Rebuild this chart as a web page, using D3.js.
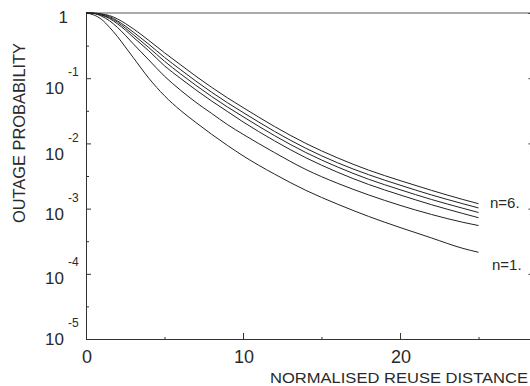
<!DOCTYPE html>
<html>
<head>
<meta charset="utf-8">
<script src="https://cdn.jsdelivr.net/npm/d3@7"></script>
<style>
  body { margin: 0; background: #fff; }
  text { font-family: "Liberation Sans", Arial, sans-serif; fill: #2a2a2a; }
</style>
</head>
<body>
<div id="chart"></div>
<script>
// reuse distance samples
var distance = [0, 0.5, 1, 1.5, 2, 2.5, 3, 4, 5, 6, 7, 8, 9, 10, 12, 14, 16, 18, 20, 22, 24, 25];

// log10 of outage probability, one per curve
var logP_n1 = [0, -0.03, -0.10, -0.22, -0.36, -0.52, -0.68, -1.00, -1.27, -1.49, -1.68, -1.86, -2.03, -2.19, -2.47, -2.72, -2.93, -3.12, -3.29, -3.45, -3.61, -3.67];
var logP_n2 = [0, -0.008, -0.05, -0.12, -0.22, -0.34, -0.47, -0.72, -0.97, -1.18, -1.37, -1.54, -1.71, -1.86, -2.14, -2.40, -2.61, -2.79, -2.95, -3.09, -3.21, -3.26];
var logP_n3 = [0, -0.005, -0.035, -0.085, -0.165, -0.26, -0.37, -0.58, -0.81, -1.00, -1.18, -1.35, -1.51, -1.67, -1.96, -2.22, -2.44, -2.63, -2.79, -2.94, -3.075, -3.14];
var logP_n4 = [0, -0.004, -0.03, -0.07, -0.14, -0.23, -0.33, -0.53, -0.74, -0.93, -1.11, -1.28, -1.44, -1.59, -1.88, -2.14, -2.36, -2.55, -2.71, -2.86, -2.995, -3.06];
var logP_n5 = [0, -0.003, -0.02, -0.055, -0.12, -0.20, -0.29, -0.48, -0.68, -0.865, -1.045, -1.215, -1.375, -1.525, -1.815, -2.075, -2.295, -2.48, -2.64, -2.79, -2.925, -2.99];
var logP_n6 = [0, -0.002, -0.015, -0.04, -0.09, -0.16, -0.24, -0.42, -0.61, -0.79, -0.97, -1.14, -1.30, -1.45, -1.74, -2.00, -2.22, -2.41, -2.57, -2.72, -2.86, -2.925];

var curves = [logP_n1, logP_n2, logP_n3, logP_n4, logP_n5, logP_n6];
var curveLabels = ["n=1.", "n=6."];

var yMajor = [1, 1e-1, 1e-2, 1e-3, 1e-4, 1e-5];
var yExponents = ["", "-1", "-2", "-3", "-4", "-5"];
var yMinor = [Math.pow(10, -0.5), Math.pow(10, -1.5), Math.pow(10, -2.5), Math.pow(10, -3.5), Math.pow(10, -4.5)];
var xMajor = [10, 20];
var xMinor = [5, 15, 25];
var xLabels = [0, 10, 20];

var W = 530, H = 386;
var plotLeft = 86, plotTop = 13, plotBottom = 339;
// the printed labels sit a bit unevenly against their ticks
var labelShift = [10, 16, 17, 11, 10, 6];

var svg = d3.select("#chart").append("svg")
    .attr("width", W)
    .attr("height", H);

var x = d3.scaleLinear().domain([0, 28.5]).range([plotLeft, 533.5]);
var y = d3.scaleLog().domain([1e-5, 1]).range([plotBottom, plotTop]);

// frame
var ink = "#333";
svg.append("line").attr("x1", plotLeft).attr("x2", W).attr("y1", plotTop).attr("y2", plotTop)
    .attr("stroke", "#555").attr("stroke-width", 1);

// left axis, ticks point inward
function styleAxis(g) {
    g.selectAll("path").attr("stroke", ink);
    g.selectAll("line").attr("stroke", ink);
    g.selectAll("text").remove();
}
svg.append("g").attr("transform", "translate(" + plotLeft + ",0)")
    .call(d3.axisRight(y).tickValues(yMajor).tickSizeInner(5).tickSizeOuter(0).tickFormat(""))
    .call(styleAxis);
svg.append("g").attr("transform", "translate(" + plotLeft + ",0)")
    .call(d3.axisRight(y).tickValues(yMinor).tickSizeInner(3).tickSizeOuter(0).tickFormat(""))
    .call(function (g) { styleAxis(g); g.select("path").remove(); });

// right axis just at the edge
svg.append("g").attr("transform", "translate(" + x(28.5) + ",0)")
    .call(d3.axisLeft(y).tickValues(yMajor).tickSizeInner(5).tickSizeOuter(0).tickFormat(""))
    .call(styleAxis);

// bottom axis, ticks point up
svg.append("g").attr("transform", "translate(0," + plotBottom + ")")
    .call(d3.axisTop(x).tickValues(xMajor).tickSizeInner(6).tickSizeOuter(0).tickFormat(""))
    .call(styleAxis);
svg.append("g").attr("transform", "translate(0," + plotBottom + ")")
    .call(d3.axisTop(x).tickValues(xMinor).tickSizeInner(2).tickSizeOuter(0).tickFormat(""))
    .call(function (g) { styleAxis(g); g.select("path").remove(); });

// y tick labels: 1, 10^-1 ... 10^-5
yMajor.forEach(function (v, i) {
    var base = y(v) + labelShift[i];
    if (i == 0) {
        svg.append("text").attr("x", 68).attr("y", base)
            .attr("text-anchor", "end").attr("font-size", 17).text("1");
        return;
    }
    svg.append("text").attr("x", 64).attr("y", base)
        .attr("text-anchor", "end").attr("font-size", 17).text("10");
    svg.append("text").attr("x", 68).attr("y", base - 18)
        .attr("font-size", 12).text(yExponents[i]);
});

// x tick labels
svg.selectAll(".xlab")
    .data(xLabels)
    .enter().append("text")
    .attr("x", function (d) { return x(d) + 1; })
    .attr("y", 363)
    .attr("text-anchor", "middle")
    .attr("font-size", 18)
    .text(function (d) { return d; });

// axis titles
svg.append("text")
    .attr("x", 270).attr("y", 383)
    .attr("font-size", 14.5)
    .attr("textLength", 258).attr("lengthAdjust", "spacingAndGlyphs")
    .text("NORMALISED REUSE DISTANCE");

svg.append("text")
    .attr("transform", "translate(25,223) rotate(-90)")
    .attr("font-size", 16)
    .attr("textLength", 180).attr("lengthAdjust", "spacingAndGlyphs")
    .text("OUTAGE PROBABILITY");

// curves
var line = d3.line()
    .x(function (d, i) { return x(distance[i]); })
    .y(function (d) { return y(Math.pow(10, d)); })
    .curve(d3.curveMonotoneX);

svg.selectAll(".curve")
    .data(curves)
    .enter().append("path")
    .attr("d", line)
    .attr("fill", "none")
    .attr("stroke", "#222")
    .attr("stroke-width", 1);

// curve labels
svg.append("text").attr("x", 490).attr("y", 208).attr("font-size", 15).text(curveLabels[1]);
svg.append("text").attr("x", 492).attr("y", 270).attr("font-size", 15).text(curveLabels[0]);
</script>
</body>
</html>
